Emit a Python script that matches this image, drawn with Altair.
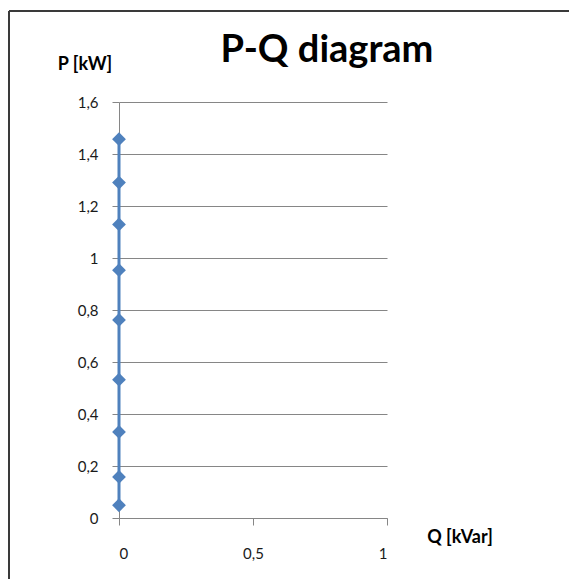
import altair as alt
import pandas as pd

# Data
q_values = [0, 0, 0, 0, 0, 0, 0, 0, 0]
p_values = [0.049, 0.158, 0.331, 0.532, 0.762, 0.953, 1.129, 1.290, 1.457]
y_ticks = [0, 0.2, 0.4, 0.6, 0.8, 1.0, 1.2, 1.4, 1.6]
x_ticks = [0, 0.5, 1]

title_text = "P-Q diagram"
y_title = "P [kW]"
x_title = "Q [kVar]"

df = pd.DataFrame({"Q": q_values, "P": p_values, "order": list(range(len(p_values)))})

FONT = "Lato"
BLUE = "#4F81BD"
GRID = "#868686"

x_enc = alt.X(
    "Q:Q",
    scale=alt.Scale(domain=[0, 1], nice=False, zero=False),
    axis=alt.Axis(
        values=x_ticks,
        grid=False,
        title=None,
        domainColor=GRID,
        tickColor=GRID,
        tickSize=7,
        labelPadding=21,
        labelFont=FONT,
        labelFontSize=15,
        labelColor="#1a1a1a",
        labelExpr="replace(format(datum.value, '.1~f'), '.', ',')",
    ),
)
y_enc = alt.Y(
    "P:Q",
    scale=alt.Scale(domain=[0, 1.6], nice=False, zero=True),
    axis=alt.Axis(
        values=y_ticks,
        grid=True,
        gridColor=GRID,
        gridOpacity=1,
        title=None,
        domainColor=GRID,
        tickColor=GRID,
        tickSize=7,
        labelPadding=14,
        labelFont=FONT,
        labelFontSize=15,
        labelColor="#1a1a1a",
        labelExpr="replace(format(datum.value, '.1~f'), '.', ',')",
    ),
)

line = alt.Chart(df).mark_line(color=BLUE, strokeWidth=3).encode(
    x=x_enc, y=y_enc, order="order:Q"
)
points = alt.Chart(df).mark_point(
    shape="diamond", filled=True, size=190, color=BLUE, opacity=1
).encode(x="Q:Q", y="P:Q")

one = pd.DataFrame({"a": [0]})

def label(text, x, y, size, bold=True, align="center"):
    return alt.Chart(one).mark_text(
        text=text,
        font=FONT,
        fontSize=size,
        fontWeight="bold" if bold else "normal",
        align=align,
        baseline="alphabetic",
        color="#000000",
    ).encode(x=alt.value(x), y=alt.value(y))

title = label(title_text, 208, -40, 38)
ytitle = label(y_title, -34, -32, 18)
xtitle = label(x_title, 341, 441, 18)

frame_top = alt.Chart(one).mark_rule(color="#3a3a3a", strokeWidth=2).encode(
    x=alt.value(-110), x2=alt.value(460), y=alt.value(-91)
)
frame_left = alt.Chart(one).mark_rule(color="#3a3a3a", strokeWidth=2).encode(
    x=alt.value(-110), y=alt.value(-91), y2=alt.value(480)
)

chart = alt.layer(frame_top, frame_left, line, points, title, ytitle, xtitle).properties(
    width=268,
    height=416,
    autosize=alt.AutoSizeParams(type="none"),
    padding={"left": 111, "top": 94, "right": 182, "bottom": 61},
    background="white",
).configure_view(strokeWidth=0)

chart.save("out.html", embed_options={"renderer": "svg", "actions": False})
